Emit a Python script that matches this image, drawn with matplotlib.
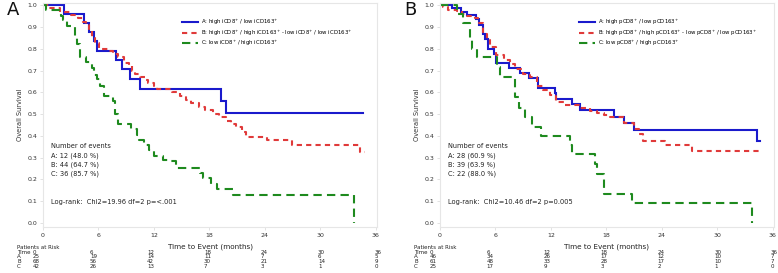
import matplotlib
matplotlib.use("Agg")
import matplotlib.pyplot as plt
from matplotlib.lines import Line2D

# ---------------- data ----------------
# Panel A
A_a_t = [0, 2.3, 4.4, 5.0, 5.5, 5.8, 7.9, 8.5, 9.4, 10.5, 19.3, 19.85, 34.6]
A_a_s = [1.0, 0.96, 0.92, 0.875, 0.835, 0.79, 0.748, 0.705, 0.66, 0.617, 0.56, 0.505, 0.505]

A_b_t = [0, 0.7, 1.8, 3.0, 3.8, 4.3, 4.7, 5.0, 5.3, 5.6, 6.1, 7.0, 7.6, 8.1, 8.8, 9.3, 9.6,
         10.0, 10.5, 11.0, 11.4, 12.0, 12.3, 14.0, 14.8, 15.5, 16.0, 16.9, 17.5, 18.4, 19.0,
         19.8, 20.4, 20.9, 21.5, 22.0, 24.2, 27.0, 34.3, 34.8]
A_b_s = [1.0, 0.985, 0.97, 0.955, 0.94, 0.925, 0.91, 0.88, 0.85, 0.825, 0.80, 0.79, 0.775,
         0.76, 0.735, 0.72, 0.70, 0.685, 0.67, 0.655, 0.645, 0.63, 0.615, 0.60, 0.585, 0.565,
         0.55, 0.535, 0.52, 0.50, 0.485, 0.47, 0.455, 0.44, 0.42, 0.395, 0.382, 0.36, 0.325, 0.325]

A_c_t = [0, 0.36, 1.9, 2.2, 2.6, 3.5, 3.7, 4.0, 4.6, 5.3, 5.5, 5.8, 6.2, 6.6, 7.6, 7.8, 8.1,
         9.5, 10.2, 10.4, 10.9, 11.5, 12.0, 13.0, 13.7, 14.4, 17.0, 17.3, 18.2, 18.8, 20.6, 33.7]
A_c_s = [1.0, 0.976, 0.95, 0.93, 0.905, 0.86, 0.82, 0.76, 0.74, 0.71, 0.68, 0.66, 0.63, 0.585,
         0.56, 0.50, 0.455, 0.43, 0.405, 0.38, 0.36, 0.335, 0.31, 0.29, 0.285, 0.255, 0.23,
         0.205, 0.18, 0.155, 0.13, 0.0]

# Panel B
B_a_t = [0, 1.3, 2.3, 2.9, 3.9, 4.2, 4.6, 4.9, 5.2, 5.8, 6.1, 7.5, 8.7, 9.6, 10.65, 12.5,
         12.6, 14.3, 15.2, 18.8, 19.9, 20.95, 34.3, 34.6]
B_a_s = [1.0, 0.985, 0.97, 0.955, 0.935, 0.91, 0.87, 0.845, 0.80, 0.775, 0.735, 0.71, 0.69,
         0.665, 0.62, 0.595, 0.57, 0.545, 0.52, 0.485, 0.46, 0.425, 0.377, 0.377]

B_b_t = [0, 0.36, 0.9, 1.8, 2.35, 2.9, 3.8, 4.15, 4.7, 5.05, 5.4, 6.1, 6.9, 7.6, 8.1, 9.0,
         9.75, 10.45, 11.2, 11.9, 12.6, 13.4, 15.2, 16.25, 17.0, 17.7, 18.4, 19.9, 20.95,
         21.5, 22.0, 24.4, 27.3, 34.5]
B_b_s = [1.0, 0.99, 0.98, 0.975, 0.96, 0.95, 0.94, 0.92, 0.87, 0.84, 0.81, 0.77, 0.75, 0.73,
         0.705, 0.685, 0.67, 0.63, 0.61, 0.59, 0.555, 0.54, 0.53, 0.515, 0.505, 0.495, 0.485,
         0.46, 0.43, 0.41, 0.377, 0.36, 0.33, 0.33]

B_c_t = [0, 1.8, 2.45, 3.3, 3.5, 4.0, 6.2, 6.5, 8.1, 8.5, 9.2, 10.0, 10.9, 14.1, 14.3, 16.8,
         17.0, 17.8, 20.8, 33.8]
B_c_s = [1.0, 0.96, 0.92, 0.84, 0.80, 0.76, 0.715, 0.67, 0.577, 0.53, 0.485, 0.44, 0.40,
         0.36, 0.315, 0.27, 0.225, 0.135, 0.09, 0.0]

legend_A = [r"A: high iCD8$^{+}$ / low iCD163$^{+}$",
            r"B: high iCD8$^{+}$ / high iCD163$^{+}$ - low iCD8$^{+}$ / low iCD163$^{+}$",
            r"C: low iCD8$^{+}$ / high iCD163$^{+}$"]
legend_B = [r"A: high pCD8$^{+}$ / low pCD163$^{+}$",
            r"B: high pCD8$^{+}$ / high pCD163$^{+}$ - low pCD8$^{+}$ / low pCD163$^{+}$",
            r"C: low pCD8$^{+}$ / high pCD163$^{+}$"]

events_A = ["Number of events", "A: 12 (48.0 %)", "B: 44 (64.7 %)", "C: 36 (85.7 %)"]
events_B = ["Number of events", "A: 28 (60.9 %)", "B: 39 (63.9 %)", "C: 22 (88.0 %)"]
logrank_A = "Log-rank:  Chi2=19.96 df=2 p=<.001"
logrank_B = "Log-rank:  Chi2=10.46 df=2 p=0.005"

risk_times = [0, 6, 12, 18, 24, 30, 36]
risk_A = {"A": [25, 19, 14, 11, 7, 6, 5],
          "B": [68, 56, 42, 30, 21, 14, 9],
          "C": [42, 26, 13, 7, 3, 1, 0]}
risk_B = {"A": [46, 34, 26, 17, 12, 10, 7],
          "B": [61, 48, 33, 28, 17, 10, 7],
          "C": [25, 17, 9, 3, 2, 1, 0]}

# ---------------- drawing ----------------
W, H = 778, 273
fig = plt.figure(figsize=(W / 100, H / 100), dpi=100)
fig.patch.set_facecolor("white")

C_BLUE = "#1a1acc"
C_RED = "#e03a3a"
C_GREEN = "#1e8a1e"
GRID = "#e6e6e6"


def fx(px):
    return px / W


def fy(py):
    return 1 - py / H


def panel(left_px, right_px, label, data, legend_labels, events, logrank,
          risk, tab_label_px, tab_x0_px, tab_x36_px):
    ax = fig.add_axes([fx(left_px), fy(227), (right_px - left_px) / W, (227 - 3) / H])
    (at, as_), (bt, bs), (ct, cs) = data
    ax.step(at, as_, where="post", color=C_BLUE, lw=1.5, solid_joinstyle="miter")
    ax.step(bt, bs, where="post", color=C_RED, lw=1.5, dashes=(2.5, 2.0))
    ax.step(ct, cs, where="post", color=C_GREEN, lw=1.5, dashes=(4.0, 2.5))
    ax.set_xlim(0, 36.15)
    ax.set_ylim(-0.018, 1.01)
    ax.set_xticks(risk_times)
    ax.set_yticks([i / 10 for i in range(11)])
    ax.set_yticklabels([f"{i / 10:.1f}" for i in range(11)])
    ax.tick_params(labelsize=4.5, length=2, width=0.4, color="#cccccc",
                   labelcolor="#333333", pad=2)
    for s in ax.spines.values():
        s.set_color(GRID)
        s.set_linewidth(0.8)
    ax.set_ylabel("Overall Survival", fontsize=4.8, color="#333333", labelpad=3)
    ax.set_xlabel("Time to Event (months)", fontsize=5.2, color="#222222", labelpad=4)

    handles = [Line2D([0], [0], color=C_BLUE, lw=1.5),
               Line2D([0], [0], color=C_RED, lw=1.5, dashes=(2.5, 2.0)),
               Line2D([0], [0], color=C_GREEN, lw=1.5, dashes=(4.0, 2.5))]
    ax.legend(handles, legend_labels, loc="upper left", bbox_to_anchor=(0.41, 0.945),
              frameon=False, fontsize=3.9, handlelength=3.0, handletextpad=0.4,
              labelspacing=0.1, borderaxespad=0)

    ys = [0.355, 0.31, 0.268, 0.226]
    for t, y in zip(events, ys):
        ax.text(0.9, y, t, fontsize=4.8, color="#222222", va="center", ha="left")
    ax.text(0.9, 0.099, logrank, fontsize=4.8, color="#222222", va="center", ha="left")

    fig.text(fx(left_px - 36), fy(10), label, fontsize=13, va="center", ha="left",
             color="#111111")

    # risk table
    fs = 4.0
    fig.text(fx(tab_label_px), fy(247.5), "Patients at Risk", fontsize=fs, va="center",
             ha="left", color="#222222")
    rows = [("Time", risk_times), ("A", risk["A"]), ("B", risk["B"]), ("C", risk["C"])]
    for r, (name, vals) in enumerate(rows):
        y = 252.3 + r * 4.6
        fig.text(fx(tab_label_px), fy(y), name, fontsize=fs, va="center", ha="left",
                 color="#222222")
        for k, v in enumerate(vals):
            x = tab_x0_px + (tab_x36_px - tab_x0_px) * risk_times[k] / 36
            fig.text(fx(x), fy(y), str(v), fontsize=fs, va="center", ha="left",
                     color="#222222")
    return ax


panel(43, 377, "A", [(A_a_t, A_a_s), (A_b_t, A_b_s), (A_c_t, A_c_s)], legend_A,
      events_A, logrank_A, risk_A, 17, 33, 375)
panel(440, 774, "B", [(B_a_t, B_a_s), (B_b_t, B_b_s), (B_c_t, B_c_s)], legend_B,
      events_B, logrank_B, risk_B, 414, 430, 771)

fig.savefig("out.png", dpi=100, facecolor="white")
